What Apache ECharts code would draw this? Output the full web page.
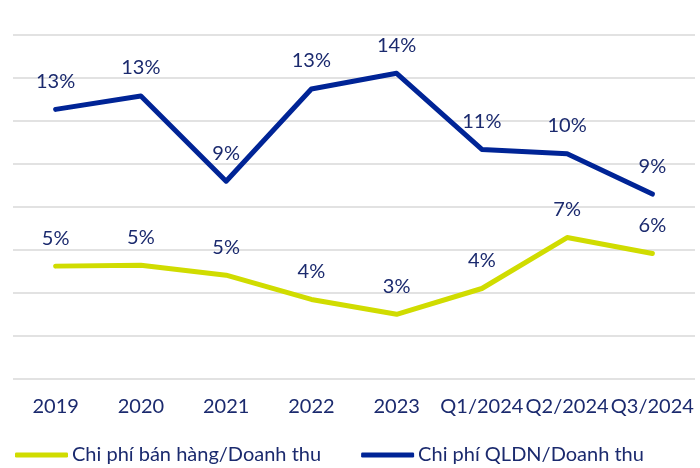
<!DOCTYPE html>
<html>
<head>
<meta charset="utf-8">
<script src="https://cdn.jsdelivr.net/npm/echarts@6/dist/echarts.min.js"></script>
<style>
html,body{margin:0;padding:0;background:#fff;}
#chart{width:700px;height:468px;}
</style>
</head>
<body>
<div id="chart"></div>
<script>
const categories = ['2019', '2020', '2021', '2022', '2023', 'Q1/2024', 'Q2/2024', 'Q3/2024'];
const sellingCost = [5.25, 5.29, 4.83, 3.70, 3.01, 4.21, 6.58, 5.84];
const adminCost = [12.54, 13.16, 9.20, 13.49, 14.22, 10.68, 10.48, 8.60];
const seriesNames = ['Chi phí bán hàng/Doanh thu', 'Chi phí QLDN/Doanh thu'];

const textColor = '#1b2a6e';
const fontFam = 'Lato, "Noto Sans", sans-serif';

const chart = echarts.init(document.getElementById('chart'), null, {renderer: 'canvas'});

function mkSeries(name, data, color) {
  return {
    name: name,
    type: 'line',
    data: data,
    symbol: 'circle',
    symbolSize: 0.1,
    showSymbol: true,
    lineStyle: {color: color, width: 5, cap: 'round', join: 'round'},
    itemStyle: {color: color},
    label: {
      show: true,
      position: 'top',
      distance: 18,
      color: textColor,
      fontSize: 20,
      fontFamily: fontFam,
      formatter: p => Math.round(p.value) + '%'
    },
    emphasis: {disabled: true},
    animation: false
  };
}

chart.setOption({
  animation: false,
  grid: {left: 13, right: 5, top: 35, bottom: 89, containLabel: false},
  legend: {
    data: seriesNames,
    left: 10,
    top: 440,
    itemWidth: 53,
    itemHeight: 5,
    itemGap: 40,
    icon: 'roundRect',
    textStyle: {color: textColor, fontSize: 20, fontFamily: fontFam, padding: [0, 0, 0, -1]}
  },
  xAxis: {
    type: 'category',
    data: categories,
    boundaryGap: true,
    axisLine: {show: false},
    axisTick: {show: false},
    axisLabel: {color: textColor, fontSize: 20, fontFamily: fontFam, margin: 18, interval: 0}
  },
  yAxis: {
    type: 'value',
    min: 0,
    max: 16,
    interval: 2,
    axisLabel: {show: false},
    axisLine: {show: false},
    axisTick: {show: false},
    splitLine: {lineStyle: {color: '#d9d9d9', width: 1.5}}
  },
  series: [
    mkSeries(seriesNames[0], sellingCost, '#d0dc00'),
    mkSeries(seriesNames[1], adminCost, '#002496')
  ]
});
</script>
</body>
</html>
